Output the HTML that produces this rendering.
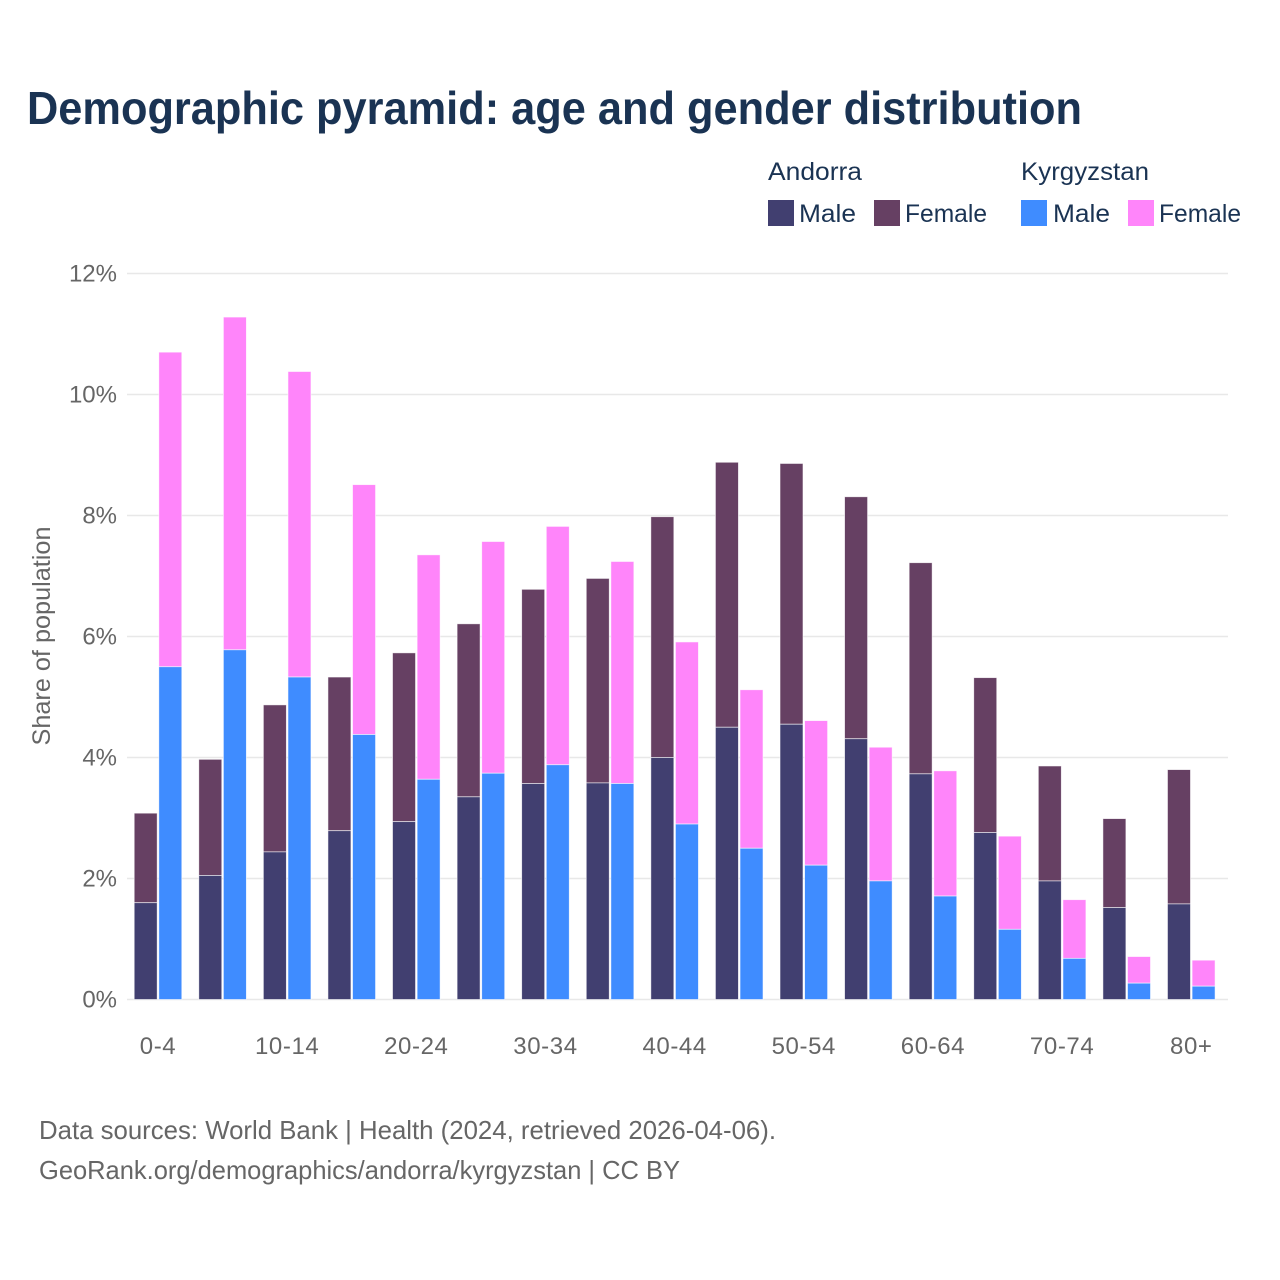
<!DOCTYPE html>
<html lang="en">
<head>
<meta charset="utf-8">
<title>Demographic pyramid: age and gender distribution</title>
<style>
  html, body { margin: 0; padding: 0; background: #fff; }
  svg { display: block; font-family: "Liberation Sans", sans-serif; }
</style>
</head>
<body>
<svg id="chart" xmlns="http://www.w3.org/2000/svg" width="1280" height="1280" viewBox="0 0 1280 1280">
  <rect width="1280" height="1280" fill="#ffffff"/>
  <text x="27" y="124" font-size="46" font-weight="700" fill="#1a3353" textLength="1055" lengthAdjust="spacingAndGlyphs">Demographic pyramid: age and gender distribution</text>

  <g font-size="25" fill="#1a3353">
    <text x="768" y="180" textLength="94" lengthAdjust="spacingAndGlyphs">Andorra</text>
    <text x="1021" y="180" textLength="128" lengthAdjust="spacingAndGlyphs">Kyrgyzstan</text>
    <rect x="768" y="200" width="26" height="26" fill="#413f70"/>
    <text x="799" y="222" textLength="57" lengthAdjust="spacingAndGlyphs">Male</text>
    <rect x="874" y="200" width="26" height="26" fill="#664063"/>
    <text x="905" y="222" textLength="82" lengthAdjust="spacingAndGlyphs">Female</text>
    <rect x="1021" y="200" width="26" height="26" fill="#3f8cff"/>
    <text x="1053" y="222" textLength="57" lengthAdjust="spacingAndGlyphs">Male</text>
    <rect x="1128" y="200" width="26" height="26" fill="#ff85fa"/>
    <text x="1159" y="222" textLength="82" lengthAdjust="spacingAndGlyphs">Female</text>
  </g>

  <g id="grid"></g>
  <g id="y-ticks"></g>
  <g id="bars"></g>
  <g id="x-ticks"></g>

  <text transform="translate(50,636) rotate(-90)" text-anchor="middle" font-size="25" fill="#666666" textLength="219" lengthAdjust="spacingAndGlyphs">Share of population</text>

  <text x="39" y="1139" font-size="26" fill="#666666" textLength="737" lengthAdjust="spacingAndGlyphs">Data sources: World Bank | Health (2024, retrieved 2026-04-06).</text>
  <text x="39" y="1179" font-size="26" fill="#666666" textLength="641" lengthAdjust="spacingAndGlyphs">GeoRank.org/demographics/andorra/kyrgyzstan | CC BY</text>
</svg>

<script>
const ageGroups = ["0-4","5-9","10-14","15-19","20-24","25-29","30-34","35-39","40-44","45-49","50-54","55-59","60-64","65-69","70-74","75-79","80+"];
const andorraMale = [1.60,2.05,2.44,2.79,2.94,3.35,3.57,3.58,4.00,4.50,4.55,4.31,3.73,2.76,1.96,1.52,1.58];
const andorraFemale = [1.48,1.92,2.43,2.54,2.79,2.86,3.21,3.38,3.98,4.38,4.31,4.00,3.49,2.56,1.90,1.47,2.22];
const kyrgyzstanMale = [5.50,5.78,5.33,4.38,3.64,3.74,3.88,3.57,2.90,2.50,2.22,1.96,1.71,1.16,0.68,0.27,0.22];
const kyrgyzstanFemale = [5.20,5.50,5.05,4.13,3.71,3.83,3.94,3.67,3.01,2.62,2.39,2.21,2.07,1.54,0.97,0.44,0.43];
const yTicks = [0,2,4,6,8,10,12];
const xTickLabels = ["0-4","10-14","20-24","30-34","40-44","50-54","60-64","70-74","80+"];

const NS = "http://www.w3.org/2000/svg";
const plotLeft = 127, plotRight = 1228, plotBottom = 999.5, plotTop = 273.5, yMax = 12;
const firstCenter = 158, step = 64.58, barWidth = 23, barOffset = 12.3;

function yScale(v) { return plotBottom - (v / yMax) * (plotBottom - plotTop); }
function xScale(i) { return firstCenter + i * step; }

function drawBar(parent, name, cx, fromValue, value, fill) {
  const r = document.createElementNS(NS, "rect");
  
  
  r.setAttribute("x", cx - barWidth / 2);
  r.setAttribute("y", yScale(fromValue + value));
  r.setAttribute("width", barWidth);
  r.setAttribute("height", yScale(fromValue) - yScale(fromValue + value));
  r.setAttribute("fill", fill);
  r.setAttribute("stroke", "#ffffff");
  r.setAttribute("stroke-width", "0.8");
  r.setAttribute("stroke-opacity", "0.7");
  parent.appendChild(r);
}

const gridGroup = document.getElementById("grid");
const yTickGroup = document.getElementById("y-ticks");
yTicks.forEach(function (t) {
  const line = document.createElementNS(NS, "line");
  
  
  line.setAttribute("x1", plotLeft);
  line.setAttribute("x2", plotRight);
  line.setAttribute("y1", yScale(t));
  line.setAttribute("y2", yScale(t));
  line.setAttribute("stroke", "#e8e8e8");
  line.setAttribute("stroke-width", "1.4");
  gridGroup.appendChild(line);

  const label = document.createElementNS(NS, "text");
  
  
  label.setAttribute("x", 117);
  label.setAttribute("y", yScale(t) + 8);
  label.setAttribute("text-anchor", "end");
  label.setAttribute("font-size", "24");
  label.setAttribute("fill", "#666666");
  label.textContent = t + "%";
  yTickGroup.appendChild(label);
});

const barGroup = document.getElementById("bars");
ageGroups.forEach(function (age, i) {
  const cx = xScale(i);
  drawBar(barGroup, "bar-andorra-female-" + age, cx - barOffset, andorraMale[i], andorraFemale[i], "#664063");
  drawBar(barGroup, "bar-andorra-male-" + age, cx - barOffset, 0, andorraMale[i], "#413f70");
  drawBar(barGroup, "bar-kyrgyzstan-female-" + age, cx + barOffset, kyrgyzstanMale[i], kyrgyzstanFemale[i], "#ff85fa");
  drawBar(barGroup, "bar-kyrgyzstan-male-" + age, cx + barOffset, 0, kyrgyzstanMale[i], "#3f8cff");
});

const xTickGroup = document.getElementById("x-ticks");
xTickLabels.forEach(function (lab) {
  const text = document.createElementNS(NS, "text");
  
  
  text.setAttribute("x", xScale(ageGroups.indexOf(lab)));
  text.setAttribute("y", 1054);
  text.setAttribute("text-anchor", "middle");
  text.setAttribute("font-size", "24");
  text.setAttribute("letter-spacing", "0.6");
  text.setAttribute("fill", "#666666");
  text.textContent = lab;
  xTickGroup.appendChild(text);
});
</script>
</body>
</html>
